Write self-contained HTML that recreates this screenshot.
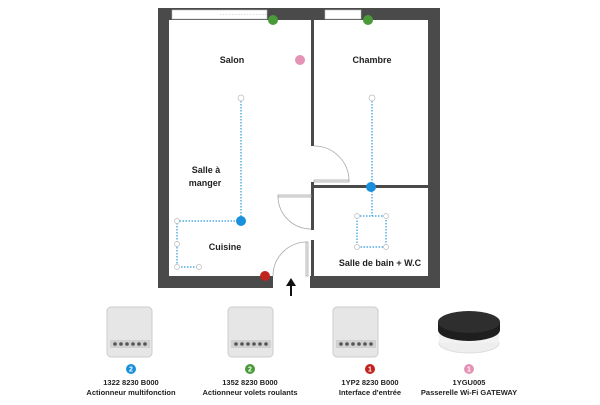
<!DOCTYPE html>
<html><head><style>
body{margin:0;width:600px;height:400px;background:#fff;overflow:hidden;font-family:"Liberation Sans",sans-serif}
</style></head><body>
<svg width="600" height="400" xmlns="http://www.w3.org/2000/svg" font-family="Liberation Sans, sans-serif">
<!-- outer walls -->
<rect x="158" y="8" width="282" height="280" fill="#4a4a4a"/>
<rect x="169" y="20" width="259" height="256" fill="#fff"/>
<!-- windows -->
<rect x="172" y="10" width="95" height="9" fill="#fff" stroke="#bbb" stroke-width="0.6"/>
<line x1="220" y1="14.5" x2="267" y2="14.5" stroke="#bbb" stroke-dasharray="1.5,1.5" stroke-width="0.6"/>
<rect x="325" y="10" width="36" height="9" fill="#fff" stroke="#bbb" stroke-width="0.6"/>
<!-- entrance gap -->
<rect x="273" y="275" width="37" height="14" fill="#fff"/>
<!-- internal walls -->
<rect x="311" y="20" width="3" height="126" fill="#4a4a4a"/>
<rect x="311" y="182" width="3" height="48" fill="#4a4a4a"/>
<rect x="311" y="185" width="117" height="3" fill="#4a4a4a"/>
<rect x="311" y="240" width="3" height="37" fill="#4a4a4a"/>
<!-- doors -->
<g fill="none" stroke="#aaa" stroke-width="0.8">
<rect x="314" y="180" width="35" height="2" fill="#eee"/>
<path d="M314 146 A35 35 0 0 1 349 181"/>
<rect x="278" y="195" width="33" height="2" fill="#eee"/>
<path d="M278 196 A33 33 0 0 0 311 229"/>
<rect x="306" y="242" width="2" height="34" fill="#eee"/>
<path d="M307 242 A34 34 0 0 0 273 276"/>
</g>
<!-- arrow -->
<line x1="291" y1="296" x2="291" y2="284" stroke="#111" stroke-width="2"/>
<polygon points="286,286 291,278 296,286" fill="#111"/>
<!-- dotted circuits -->
<g fill="none" stroke="#2a9be0" stroke-width="1.2" stroke-dasharray="1.5,1.5">
<path d="M241 98 V221 H177 V267 H199"/>
<path d="M372 98 V216"/>
<rect x="357" y="216" width="29" height="31"/>
</g>
<g fill="#fff" stroke="#bbb" stroke-width="0.7">
<circle cx="241" cy="98" r="3"/><circle cx="372" cy="98" r="3"/>
<circle cx="177" cy="221" r="2.5"/><circle cx="177" cy="244" r="2.5"/><circle cx="177" cy="267" r="2.5"/><circle cx="199" cy="267" r="2.5"/>
<circle cx="357" cy="216" r="2.5"/><circle cx="386" cy="216" r="2.5"/><circle cx="357" cy="247" r="2.5"/><circle cx="386" cy="247" r="2.5"/>
</g>
<!-- dots -->
<circle cx="273" cy="20" r="5" fill="#4a9a3a"/>
<circle cx="368" cy="20" r="5" fill="#4a9a3a"/>
<circle cx="300" cy="60" r="5" fill="#e493b6"/>
<circle cx="241" cy="221" r="5" fill="#1a90dc"/>
<circle cx="371" cy="187" r="5" fill="#1a90dc"/>
<circle cx="265" cy="276" r="5" fill="#c0241e"/>
<!-- labels -->
<g font-size="9" font-weight="bold" fill="#222" text-anchor="middle">
<text x="232" y="63">Salon</text>
<text x="372" y="63">Chambre</text>
<text x="206" y="173">Salle à</text>
<text x="205" y="186">manger</text>
<text x="225" y="250">Cuisine</text>
<text x="380" y="266">Salle de bain + W.C</text>
</g>
<!-- devices -->
<g>
<g transform="translate(107,307)"><rect x="0" y="0" width="45" height="50" rx="4" fill="#e6e6e6" stroke="#ccc"/><rect x="3" y="33" width="40" height="8" fill="#d0d0d0"/><g fill="#555"><circle cx="8" cy="37" r="1.8"/><circle cx="14" cy="37" r="1.8"/><circle cx="20" cy="37" r="1.8"/><circle cx="26" cy="37" r="1.8"/><circle cx="32" cy="37" r="1.8"/><circle cx="38" cy="37" r="1.8"/></g></g>
<g transform="translate(228,307)"><rect x="0" y="0" width="45" height="50" rx="4" fill="#e6e6e6" stroke="#ccc"/><rect x="3" y="33" width="40" height="8" fill="#d0d0d0"/><g fill="#555"><circle cx="8" cy="37" r="1.8"/><circle cx="14" cy="37" r="1.8"/><circle cx="20" cy="37" r="1.8"/><circle cx="26" cy="37" r="1.8"/><circle cx="32" cy="37" r="1.8"/><circle cx="38" cy="37" r="1.8"/></g></g>
<g transform="translate(333,307)"><rect x="0" y="0" width="45" height="50" rx="4" fill="#e6e6e6" stroke="#ccc"/><rect x="3" y="33" width="40" height="8" fill="#d0d0d0"/><g fill="#555"><circle cx="8" cy="37" r="1.8"/><circle cx="14" cy="37" r="1.8"/><circle cx="20" cy="37" r="1.8"/><circle cx="26" cy="37" r="1.8"/><circle cx="32" cy="37" r="1.8"/><circle cx="38" cy="37" r="1.8"/></g></g>
<ellipse cx="469" cy="343" rx="30" ry="10" fill="#eee" stroke="#ddd"/>
<rect x="439" y="330" width="60" height="13" fill="#f2f2f2"/>
<ellipse cx="469" cy="330" rx="31" ry="11" fill="#1e1e1e"/>
<rect x="438" y="322" width="62" height="8" fill="#1e1e1e"/>
<ellipse cx="469" cy="322" rx="31" ry="11" fill="#2e2e2e"/>
</g>
<!-- badges -->
<g font-size="7" font-weight="bold" fill="#fff" text-anchor="middle">
<circle cx="131" cy="369" r="5" fill="#1a90dc"/><text x="131" y="371.5">2</text>
<circle cx="250" cy="369" r="5" fill="#4a9a3a"/><text x="250" y="371.5">2</text>
<circle cx="370" cy="369" r="5" fill="#c0241e"/><text x="370" y="371.5">1</text>
<circle cx="469" cy="369" r="5" fill="#e493b6"/><text x="469" y="371.5">1</text>
</g>
<g font-size="7.5" font-weight="bold" fill="#222" text-anchor="middle">
<text x="131" y="385">1322 8230 B000</text><text x="131" y="395">Actionneur multifonction</text>
<text x="250" y="385">1352 8230 B000</text><text x="250" y="395">Actionneur volets roulants</text>
<text x="370" y="385">1YP2 8230 B000</text><text x="370" y="395">Interface d'entrée</text>
<text x="469" y="385">1YGU005</text><text x="469" y="395">Passerelle Wi-Fi GATEWAY</text>
</g>
</svg>
</body></html>
